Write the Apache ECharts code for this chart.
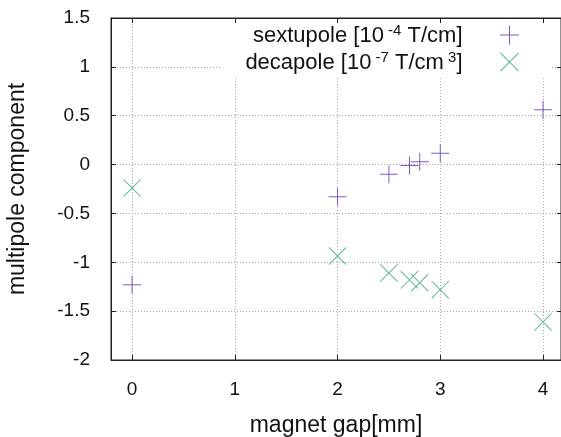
<!DOCTYPE html>
<html>
<head>
<meta charset="utf-8">
<script src="https://cdn.jsdelivr.net/npm/echarts@6/dist/echarts.min.js"></script>
<style>html,body{margin:0;padding:0;background:#fff}#c{width:561px;height:437px}</style>
</head>
<body>
<div id="c"></div>
<script>
var gaps = [0, 2, 2.5, 2.7, 2.8, 3, 4];
var sextupole = [-1.23, -0.33, -0.10, -0.01, 0.03, 0.115, 0.56];
var decapole = [-0.24, -0.935, -1.11, -1.18, -1.21, -1.28, -1.61];
var xTicks = [0, 1, 2, 3, 4];
var seriesNames = ['sextupole', 'decapole'];

var FONT = '"Liberation Sans", Arial, sans-serif';
var PLUS = 'path://M0,8.5 L18,8.5 L18,9.5 L0,9.5 Z M8.5,0 L9.5,0 L9.5,18 L8.5,18 Z';
var CROSS = 'path://M0,0.7 L0.7,0 L18,17.3 L17.3,18 Z M17.3,0 L18,0.7 L0.7,18 L0,17.3 Z';
var PURPLE = '#7d5cbd';
var GREEN = '#5db892';

function pairs(xs, ys) { return xs.map(function (x, i) { return [x, ys[i]]; }); }

var chart = echarts.init(document.getElementById('c'), null, {renderer: 'canvas'});
var gridLine = {show: true, lineStyle: {color: '#a8a8a8', type: [1, 2], width: 1}};
var axLine = {show: true, onZero: false, lineStyle: {color: '#222', width: 1}};
chart.setOption({
  animation: false,
  backgroundColor: '#fff',
  textStyle: {fontFamily: FONT},
  grid: {left: 111, top: 18, right: 0, bottom: 77, containLabel: false, outerBoundsMode: 'none',
         show: true, borderColor: '#222', borderWidth: 1, backgroundColor: 'transparent'},
  legend: {
    data: seriesNames,
    orient: 'vertical',
    align: 'right',
    right: 10,
    top: 20,
    padding: [3, 32, 3, 24],
    itemWidth: 84,
    itemHeight: 19,
    itemGap: 3,
    backgroundColor: '#fff',
    selectedMode: false,
    formatter: function (n) {
      if (n === 'sextupole') return '{b|sextupole [10}{s| -4}{b| T/cm]}';
      return '{b|decapole [10}{s| -7}{b| T/cm}{s| 3}{b|]}';
    },
    textStyle: {
      rich: {
        b: {fontSize: 22, fontFamily: FONT, color: '#111', lineHeight: 24, verticalAlign: 'bottom'},
        s: {fontSize: 15, fontFamily: FONT, color: '#111', lineHeight: 14, verticalAlign: 'top'}
      }
    }
  },
  xAxis: [{
    type: 'value', min: -0.205, max: 4.175,
    name: 'magnet gap[mm]', nameLocation: 'middle', nameGap: 54,
    nameTextStyle: {fontSize: 23, color: '#111', fontFamily: FONT},
    axisLine: axLine,
    axisTick: {show: true, inside: true, length: 5, customValues: xTicks, lineStyle: {color: '#222'}},
    axisLabel: {fontSize: 19, color: '#111', margin: 20, customValues: xTicks, fontFamily: FONT},
    splitLine: gridLine
  }, {
    type: 'value', min: -0.205, max: 4.175, position: 'top', z: 6,
    axisLine: axLine,
    axisTick: {show: true, inside: true, length: 5, customValues: xTicks, lineStyle: {color: '#222'}},
    axisLabel: {show: false, customValues: xTicks},
    splitLine: {show: false}
  }],
  yAxis: [{
    type: 'value', min: -2, max: 1.5, interval: 0.5,
    name: 'multipole component', nameLocation: 'middle', nameGap: 82,
    nameTextStyle: {fontSize: 23, color: '#111', fontFamily: FONT},
    axisLine: axLine,
    axisTick: {show: true, inside: true, length: 5, lineStyle: {color: '#222'}},
    axisLabel: {fontSize: 19, color: '#111', margin: 21, fontFamily: FONT},
    splitLine: gridLine
  }, {
    type: 'value', min: -2, max: 1.5, interval: 0.5, position: 'right',
    axisLine: {show: false, onZero: false},
    axisTick: {show: true, inside: true, length: 4, lineStyle: {color: '#222'}},
    axisLabel: {show: false},
    splitLine: {show: false}
  }],
  series: [{
    name: 'sextupole', type: 'scatter', symbol: PLUS, symbolSize: 18,
    itemStyle: {color: PURPLE, opacity: 1}, silent: true,
    data: pairs(gaps, sextupole)
  }, {
    name: 'decapole', type: 'scatter', symbol: CROSS, symbolSize: 18,
    itemStyle: {color: GREEN, opacity: 1}, silent: true,
    data: pairs(gaps, decapole)
  }]
});
</script>
</body>
</html>
